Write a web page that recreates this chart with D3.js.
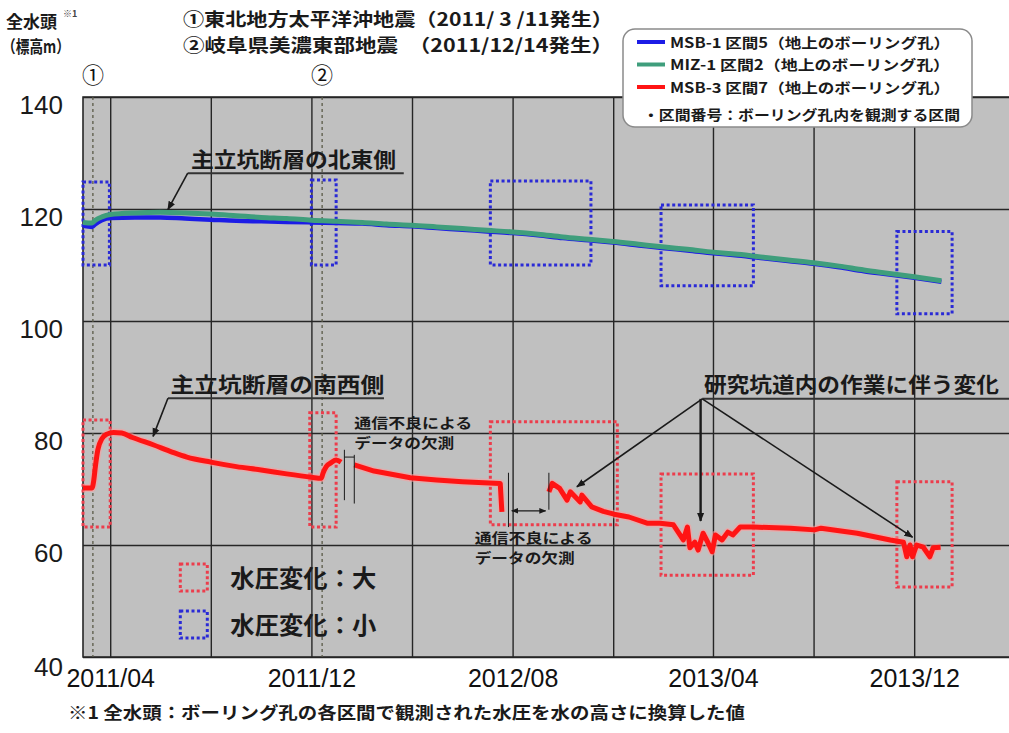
<!DOCTYPE html>
<html>
<head>
<meta charset="utf-8">
<script src="https://cdn.jsdelivr.net/npm/d3@7"></script>
<style>
  body { margin: 0; background: #fff; }
  text { font-family: "Noto Sans CJK JP", "Noto Sans", sans-serif; }
</style>
</head>
<body>
<svg id="chart" width="1009" height="733"></svg>
<script>
// ---- Observed total head (m above sea level) ----
const msb1Dates = ["2011-02-27","2011-03-10","2011-03-14","2011-03-22","2011-04-01","2011-05-01","2011-06-01","2011-07-01","2011-08-01","2011-09-01","2011-10-01","2011-11-01","2011-12-01","2012-01-01","2012-02-01","2012-03-01","2012-04-01","2012-05-01","2012-06-01","2012-07-01","2012-08-01","2012-09-01","2012-10-01","2012-11-01","2012-12-01","2013-01-01","2013-02-01","2013-03-01","2013-04-01","2013-05-01","2013-06-01","2013-07-01","2013-08-01","2013-09-01","2013-10-01","2013-11-01","2013-12-01","2014-01-03"];
const msb1Values = [117.0,116.8,117.3,118.0,118.4,118.5,118.5,118.3,118.1,117.9,117.8,117.7,117.6,117.5,117.4,117.1,116.9,116.6,116.3,116.0,115.7,115.3,114.8,114.4,114.0,113.5,113.0,112.6,112.1,111.7,111.2,110.7,110.2,109.6,108.9,108.3,107.7,107.0];

const miz1Dates = msb1Dates;
const miz1Values = [117.6,117.5,118.0,118.6,119.0,119.3,119.4,119.3,119.1,118.8,118.5,118.3,118.0,117.8,117.6,117.3,117.1,116.8,116.5,116.2,115.9,115.5,115.0,114.6,114.2,113.7,113.2,112.8,112.3,111.9,111.4,110.9,110.4,109.8,109.1,108.5,107.9,107.2];

// MSB-3 is recorded in three pieces, separated by communication outages
const msb3Seg1Dates = ["2011-02-27","2011-03-10","2011-03-12","2011-03-14","2011-03-17","2011-03-22","2011-03-28","2011-04-05","2011-04-15","2011-04-28","2011-05-23","2011-06-15","2011-07-03","2011-08-01","2011-09-01","2011-10-01","2011-11-01","2011-12-01","2011-12-13","2011-12-15","2011-12-19","2011-12-25","2011-12-31","2012-01-06"];
const msb3Seg1Values = [70.2,70.2,71.5,74.0,77.0,79.0,79.8,80.1,80.0,79.2,77.9,76.6,75.7,74.8,74.0,73.4,72.7,72.1,71.9,72.8,74.0,74.7,75.2,74.8];

const msb3Seg2Dates = ["2012-01-22","2012-02-15","2012-03-30","2012-05-01","2012-06-01","2012-07-17","2012-07-19"];
const msb3Seg2Values = [74.3,73.2,72.0,71.6,71.3,71.0,65.9];

const msb3Seg3Dates = ["2012-09-14","2012-09-18","2012-09-27","2012-10-06","2012-10-10","2012-10-22","2012-10-24","2012-11-05","2012-11-19","2012-12-02","2012-12-20","2013-01-11","2013-01-27","2013-02-12","2013-02-24","2013-03-01","2013-03-04","2013-03-10","2013-03-14","2013-03-20","2013-03-26","2013-03-31","2013-04-04","2013-04-12","2013-04-19","2013-04-25","2013-05-04","2013-05-20","2013-07-04","2013-08-02","2013-08-10","2013-09-23","2013-11-02","2013-11-18","2013-11-22","2013-11-26","2013-11-29","2013-12-04","2013-12-12","2013-12-20","2013-12-24","2014-01-02"];
const msb3Seg3Values = [69.5,71.0,70.1,68.0,69.5,67.7,68.9,66.8,66.0,65.5,65.0,63.9,63.9,63.6,60.9,63.2,59.5,60.5,59.1,62.1,60.4,58.8,61.8,60.9,62.3,61.8,63.2,63.2,63.0,62.7,63.0,62.1,60.9,60.5,57.9,60.0,57.9,60.0,59.6,57.9,59.5,59.6];

// ---- Axes ----
const gridDates = ["2011-04-01","2011-08-01","2011-12-01","2012-04-01","2012-08-01","2012-12-01","2013-04-01","2013-08-01","2013-12-01"];
const xTickLabels = ["2011/04","2011/12","2012/08","2013/04","2013/12"];
const yTickValues = [40,60,80,100,120,140];

// ---- Earthquakes ----
const quakeDates = ["2011-03-11","2011-12-14"];
const quakeMarks = ["①","②"];

// ---- Highlight boxes: [start, end, upper value, lower value] ----
const largeChangeBoxes = [
  ["2011-02-27","2011-04-01",82.3,63.2],
  ["2011-11-29","2011-12-31",83.6,63.2],
  ["2012-07-05","2012-12-06",82.0,63.6],
  ["2013-01-28","2013-05-20",72.7,54.6],
  ["2013-11-10","2014-01-16",71.3,52.5]
];
const smallChangeBoxes = [
  ["2011-02-27","2011-03-31",124.8,110.0],
  ["2011-12-01","2011-12-31",125.2,110.0],
  ["2012-07-05","2012-11-04",125.0,110.0],
  ["2013-01-28","2013-05-20",120.7,106.3],
  ["2013-11-10","2014-01-16",116.0,101.3]
];

const parse = d3.utcParse("%Y-%m-%d");
const zip = (ds, vs) => ds.map((d, i) => ({ date: parse(d), v: vs[i] }));

const svg = d3.select("#chart");
const plot = { left: 83, right: 1009, top: 97, bottom: 657 };

const x = d3.scaleUtc()
  .domain([parse("2011-02-27"), parse("2014-03-26")])
  .range([plot.left, plot.right]);
const y = d3.scaleLinear().domain([40, 140]).range([plot.bottom, plot.top]);

svg.append("rect").attr("width", 1009).attr("height", 733).attr("fill", "#fff");

// markers
const defs = svg.append("defs");
defs.append("marker").attr("id", "tri").attr("viewBox", "0 0 10 10")
  .attr("refX", 9).attr("refY", 5).attr("markerWidth", 9).attr("markerHeight", 9)
  .attr("markerUnits", "userSpaceOnUse").attr("orient", "auto")
  .append("path").attr("d", "M0,1 L10,5 L0,9 Z").attr("fill", "#1a1a1a");
defs.append("marker").attr("id", "triS").attr("viewBox", "0 0 10 10")
  .attr("refX", 9).attr("refY", 5).attr("markerWidth", 7).attr("markerHeight", 7)
  .attr("markerUnits", "userSpaceOnUse").attr("orient", "auto-start-reverse")
  .append("path").attr("d", "M0,1 L10,5 L0,9 Z").attr("fill", "#1a1a1a");

// plot background
svg.append("rect")
  .attr("x", plot.left).attr("y", plot.top)
  .attr("width", plot.right - plot.left).attr("height", plot.bottom - plot.top)
  .attr("fill", "#c0c0c0");

// vertical gridlines
const xAxis = d3.axisBottom(x)
  .tickValues(gridDates.map(parse))
  .tickSize(-(plot.bottom - plot.top))
  .tickFormat(d => {
    const s = d3.utcFormat("%Y/%m")(d);
    return xTickLabels.includes(s) ? s : "";
  });
const gx = svg.append("g").attr("transform", `translate(0,${plot.bottom})`).call(xAxis);
gx.select(".domain").remove();
gx.selectAll(".tick line").attr("stroke", "#262626").attr("stroke-width", 1.4);
gx.selectAll(".tick text")
  .attr("y", 12).attr("dy", "0.71em")
  .style("font-family", "'Liberation Sans', Arial, sans-serif")
  .style("font-size", "25px").attr("fill", "#111");

// horizontal gridlines
const yAxis = d3.axisLeft(y).tickValues(yTickValues)
  .tickSize(-(plot.right - plot.left)).tickFormat(d3.format("d"));
const gy = svg.append("g").attr("transform", `translate(${plot.left},0)`).call(yAxis);
gy.select(".domain").remove();
gy.selectAll(".tick line").attr("stroke", "#262626").attr("stroke-width", 1.4);
gy.selectAll(".tick text")
  .attr("x", -20).attr("dy", d => d === 40 ? "0.72em" : "0.62em")
  .style("font-family", "'Liberation Sans', Arial, sans-serif")
  .style("font-size", "26px").attr("fill", "#1a1a1a");

// frame
svg.append("path")
  .attr("d", `M${plot.right},${plot.top}H${plot.left}V${plot.bottom}H${plot.right}`)
  .attr("fill", "none").attr("stroke", "#262626").attr("stroke-width", 1.6);

// earthquake dates
quakeDates.forEach((d, i) => {
  const qx = x(parse(d));
  svg.append("line").attr("x1", qx).attr("x2", qx)
    .attr("y1", plot.top).attr("y2", plot.bottom)
    .attr("stroke", "#5a5a48").attr("stroke-width", 1.3).attr("stroke-dasharray", "3,3");
  svg.append("text").attr("x", qx).attr("y", 83).attr("text-anchor", "middle")
    .style("font-size", "22px").attr("fill", "#111").text(quakeMarks[i]);
});

// highlight boxes
function drawBoxes(list, color) {
  svg.append("g").selectAll("rect").data(list).join("rect")
    .attr("x", d => x(parse(d[0])))
    .attr("y", d => y(d[2]))
    .attr("width", d => x(parse(d[1])) - x(parse(d[0])))
    .attr("height", d => y(d[3]) - y(d[2]))
    .attr("fill", "none").attr("stroke", color)
    .attr("stroke-width", 3).attr("stroke-dasharray", "3,2.6");
}
drawBoxes(smallChangeBoxes, "#2a2ad6");
drawBoxes(largeChangeBoxes, "#ec3d4c");

// series lines
const line = d3.line().x(d => x(d.date)).y(d => y(d.v)).curve(d3.curveMonotoneX);
const sharp = d3.line().x(d => x(d.date)).y(d => y(d.v));

svg.append("path").datum(zip(msb1Dates, msb1Values)).attr("d", line)
  .attr("fill", "none").attr("stroke", "#1c1ce6").attr("stroke-width", 4.5);
svg.append("path").datum(zip(miz1Dates, miz1Values)).attr("d", line)
  .attr("fill", "none").attr("stroke", "#3f9e7c").attr("stroke-width", 5);

[[msb3Seg1Dates, msb3Seg1Values, line], [msb3Seg2Dates, msb3Seg2Values, sharp], [msb3Seg3Dates, msb3Seg3Values, sharp]]
  .forEach(([ds, vs, gen]) => {
    const data = zip(ds, vs);
    svg.append("path").datum(data).attr("d", gen)
      .attr("fill", "none").attr("stroke", "#ff9a9a").attr("stroke-width", 8)
      .attr("stroke-linejoin", "round").attr("opacity", 0.55);
    svg.append("path").datum(data).attr("d", gen)
      .attr("fill", "none").attr("stroke", "#ff1414").attr("stroke-width", 5)
      .attr("stroke-linejoin", "round");
  });

// ---- annotations ----
const ink = "#1a1a1a";
function seg(d1, v1, d2, v2, opts = {}) {
  const l = svg.append("line")
    .attr("x1", x(parse(d1))).attr("y1", y(v1))
    .attr("x2", x(parse(d2))).attr("y2", y(v2))
    .attr("stroke", opts.color || ink).attr("stroke-width", opts.w || 1.6);
  if (opts.end) l.attr("marker-end", `url(#${opts.end})`);
  if (opts.start) l.attr("marker-start", `url(#${opts.start})`);
  return l;
}
function label(txt, d, v, size, len, anchor = "start") {
  const t = svg.append("text").attr("x", x(parse(d))).attr("y", y(v))
    .attr("text-anchor", anchor)
    .style("font-size", size + "px").style("font-weight", 700).attr("fill", ink).text(txt);
  if (len) t.attr("textLength", len).attr("lengthAdjust", "spacingAndGlyphs");
  return t;
}

// north-east side of the main shaft fault
seg("2011-07-04", 126.4, "2012-03-22", 126.4, { color: "#333", w: 2 });
seg("2011-07-04", 126.4, "2011-06-10", 119.9, { end: "tri" });
label("主立坑断層の北東側", "2011-07-08", 127.5, 21, 205);

// south-west side
seg("2011-06-10", 86.2, "2012-02-27", 86.2, { color: "#333", w: 2 });
seg("2011-06-10", 86.2, "2011-05-23", 79.4, { end: "tri" });
label("主立坑断層の南西側", "2011-06-13", 87.3, 21, 214);

// works in the research galleries
seg("2013-03-19", 86.1, "2014-03-26", 86.1, { color: "#333", w: 2 });
seg("2013-03-19", 86.1, "2012-10-18", 70.4, { end: "tri" });
seg("2013-03-17", 86.1, "2013-03-17", 64.3, { end: "tri", w: 2.4 });
seg("2013-03-19", 86.1, "2013-11-29", 61.4, { end: "tri" });
label("研究坑道内の作業に伴う変化", "2013-03-21", 87.3, 21, 295);

// first data gap
seg("2012-01-10", 77.0, "2012-01-10", 68.0, { w: 1 });
seg("2012-01-22", 76.1, "2012-01-22", 67.4, { w: 1 });
seg("2012-01-10", 75.7, "2012-01-22", 75.7, { w: 1 });
label("通信不良による", "2012-01-22", 80.9, 14, 118);
label("データの欠測", "2012-01-22", 77.4, 14, 100);

// second data gap
seg("2012-07-27", 72.9, "2012-07-27", 63.2, { w: 1 });
seg("2012-09-14", 72.9, "2012-09-14", 66.3, { w: 1 });
seg("2012-07-31", 66.1, "2012-09-10", 66.1, { w: 1.2, start: "triS", end: "triS" });
label("通信不良による", "2012-06-16", 60.3, 14, 118);
label("データの欠測", "2012-06-16", 56.8, 14, 100);

// box key
const keyX = x(parse("2011-06-25"));
[["水圧変化：大", "#ec3d4c", 54.1], ["水圧変化：小", "#2a2ad6", 45.7]].forEach(([t, c, v]) => {
  svg.append("rect").attr("x", keyX).attr("y", y(v) - 14).attr("width", 27).attr("height", 27)
    .attr("fill", "none").attr("stroke", c).attr("stroke-width", 3).attr("stroke-dasharray", "3,2.6");
  svg.append("text").attr("x", keyX + 50).attr("y", y(v) + 9)
    .style("font-size", "24px").style("font-weight", 700).attr("fill", ink)
    .attr("textLength", 146).attr("lengthAdjust", "spacingAndGlyphs").text(t);
});

// ---- header texts ----
svg.append("text").attr("x", 6).attr("y", 28).style("font-size", "17px").style("font-weight", 700)
  .attr("fill", ink).text("全水頭");
svg.append("text").attr("x", 63).attr("y", 17).style("font-size", "9px").style("font-weight", 700)
  .attr("fill", "#444").text("※1");
svg.append("text").attr("x", 2).attr("y", 53).style("font-size", "17px").style("font-weight", 700)
  .attr("fill", ink).attr("textLength", 68).attr("lengthAdjust", "spacingAndGlyphs").text("（標高m）");

svg.append("text").attr("x", 183).attr("y", 26).style("font-size", "18px").style("font-weight", 700)
  .attr("fill", ink).attr("textLength", 430).attr("lengthAdjust", "spacingAndGlyphs")
  .text("①東北地方太平洋沖地震（2011/ 3 /11発生）");
svg.append("text").attr("x", 183).attr("y", 52).style("font-size", "18px").style("font-weight", 700)
  .attr("fill", ink).attr("textLength", 430).attr("lengthAdjust", "spacingAndGlyphs")
  .text("②岐阜県美濃東部地震　（2011/12/14発生）");

// ---- series legend ----
const seriesNames = ["MSB-1 区間5（地上のボーリング孔）", "MIZ-1  区間2（地上のボーリング孔）", "MSB-3 区間7（地上のボーリング孔）"];
const seriesColors = ["#1c1ce6", "#3f9e7c", "#ff1414"];
const lg = svg.append("g");
lg.append("rect").attr("x", 623).attr("y", 29).attr("width", 349).attr("height", 98).attr("rx", 12)
  .attr("fill", "#fff").attr("stroke", "#8a8a8a").attr("stroke-width", 1.5);
seriesNames.forEach((n, i) => {
  const ly = 42 + i * 22.5;
  lg.append("line").attr("x1", 637).attr("x2", 665).attr("y1", ly).attr("y2", ly)
    .attr("stroke", seriesColors[i]).attr("stroke-width", 4);
  lg.append("text").attr("x", 670).attr("y", ly + 5.5)
    .style("font-size", "14px").style("font-weight", 700).attr("fill", ink)
    .attr("textLength", 280).attr("lengthAdjust", "spacingAndGlyphs").text(n);
});
lg.append("text").attr("x", 643).attr("y", 120)
  .style("font-size", "14px").style("font-weight", 700).attr("fill", ink)
  .attr("textLength", 317).attr("lengthAdjust", "spacingAndGlyphs")
  .text("・区間番号：ボーリング孔内を観測する区間");

// ---- footnote ----
svg.append("text").attr("x", 68).attr("y", 719).style("font-size", "17px").style("font-weight", 700)
  .attr("fill", ink).attr("textLength", 677).attr("lengthAdjust", "spacingAndGlyphs")
  .text("※1  全水頭：ボーリング孔の各区間で観測された水圧を水の高さに換算した値");
</script>
</body>
</html>
